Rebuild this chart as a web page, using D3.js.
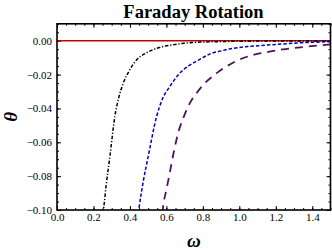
<!DOCTYPE html>
<html>
<head>
<meta charset="utf-8">
<script src="https://cdn.jsdelivr.net/npm/d3@7"></script>
<style>
body { margin: 0; background: #fff; }
text { font-family: "Liberation Serif", "DejaVu Serif", serif; }
</style>
</head>
<body>
<div id="chart"></div>
<script>
// points: [omega, theta]
var blackSeries = [[0.252,-0.102],[0.257,-0.098],[0.270,-0.085],[0.290,-0.0685],[0.317,-0.0449],[0.340,-0.033],[0.363,-0.0252],[0.400,-0.017],[0.436,-0.0114],[0.490,-0.0072],[0.546,-0.0045],[0.640,-0.0023],[0.728,-0.0012],[0.900,-0.0005],[1.100,-0.0002],[1.500,-0.0001]];
var blueSeries = [[0.446,-0.102],[0.451,-0.098],[0.475,-0.082],[0.500,-0.0685],[0.546,-0.0449],[0.580,-0.034],[0.618,-0.0272],[0.670,-0.0195],[0.728,-0.0144],[0.783,-0.011],[0.837,-0.0079],[0.900,-0.006],[0.965,-0.0045],[1.100,-0.003],[1.239,-0.0019],[1.380,-0.001],[1.500,-0.0006]];
var purpleSeries = [[0.578,-0.102],[0.582,-0.098],[0.600,-0.088],[0.618,-0.0783],[0.640,-0.066],[0.664,-0.0547],[0.695,-0.045],[0.728,-0.037],[0.765,-0.031],[0.801,-0.0262],[0.874,-0.0193],[0.965,-0.013],[1.074,-0.0084],[1.160,-0.0066],[1.239,-0.0051],[1.360,-0.0036],[1.500,-0.0022]];
var redSeries = [[0,0],[1.5,0]];
var xTicks = [0, 0.2, 0.4, 0.6, 0.8, 1.0, 1.2, 1.4];
var yTicks = [0, -0.02, -0.04, -0.06, -0.08, -0.10];

var width = 332, height = 252;
var svg = d3.select('#chart').append('svg').attr('width', width).attr('height', height);

var x = d3.scaleLinear().domain([0, 1.5]).range([57, 330.5]);
var y = d3.scaleLinear().domain([-0.1, 0.01]).range([210, 23.8]);

svg.append('clipPath').attr('id', 'clip')
	.append('rect')
	.attr('x', x(0)).attr('y', y(0.01))
	.attr('width', x(1.5) - x(0)).attr('height', y(-0.1) - y(0.01));

var xMinor = d3.range(0, 1.5001, 0.05);
var yMinor = d3.range(-0.1, 0.01001, 0.005);

function tickAxis(axisFn, scale, ticks, minor, transform, size, labels) {
	var gMinor = svg.append('g').attr('transform', transform)
		.call(axisFn(scale).tickValues(minor).tickSize(size / 2).tickFormat(''));
	gMinor.select('.domain').remove();
	var g = svg.append('g').attr('transform', transform)
		.call(axisFn(scale).tickValues(ticks).tickSize(size).tickPadding(labels ? 6 : 0)
			.tickFormat(labels ? labels : ''));
	g.select('.domain').remove();
	g.selectAll('line').attr('stroke', '#000').attr('stroke-width', 1);
	gMinor.selectAll('line').attr('stroke', '#000').attr('stroke-width', 1);
	g.selectAll('text').attr('font-size', 11).attr('fill', '#000')
		.style('font-family', '"Liberation Serif", serif');
	return g;
}

var fmtY = function(d) { return d === 0 ? '0.00' : '\u2212' + d3.format('.2f')(-d); };
var fmtX = d3.format('.1f');

// bottom and top
tickAxis(d3.axisBottom, x, xTicks, xMinor, 'translate(0,' + y(-0.1) + ')', -4, fmtX)
	.selectAll('text').attr('dy', '0.45em');
tickAxis(d3.axisTop, x, xTicks, xMinor, 'translate(0,' + y(0.01) + ')', -4, null);
// left and right
tickAxis(d3.axisLeft, y, yTicks, yMinor, 'translate(' + x(0) + ',0)', -4, fmtY)
	.selectAll('text').attr('dx', '0.1em');
tickAxis(d3.axisRight, y, yTicks, yMinor, 'translate(' + x(1.5) + ',0)', -4, null);

var line = d3.line().x(function(d) { return x(d[0]); }).y(function(d) { return y(d[1]); })
	.curve(d3.curveMonotoneX);

var plot = svg.append('g').attr('clip-path', 'url(#clip)');

plot.append('path').datum(redSeries).attr('d', line)
	.attr('fill', 'none').attr('stroke', '#c00000').attr('stroke-width', 1.6);
plot.append('path').datum(blackSeries).attr('d', line)
	.attr('fill', 'none').attr('stroke', '#000').attr('stroke-width', 1.5)
	.attr('stroke-dasharray', '3.5,1.8,1.2,1.8');
plot.append('path').datum(blueSeries).attr('d', line)
	.attr('fill', 'none').attr('stroke', '#0000b4').attr('stroke-width', 1.5)
	.attr('stroke-dasharray', '3.5,2');
plot.append('path').datum(purpleSeries).attr('d', line)
	.attr('fill', 'none').attr('stroke', '#50105e').attr('stroke-width', 1.8)
	.attr('stroke-dasharray', '8,6');

// frame
svg.append('rect')
	.attr('x', x(0)).attr('y', y(0.01))
	.attr('width', x(1.5) - x(0)).attr('height', y(-0.1) - y(0.01))
	.attr('fill', 'none').attr('stroke', '#000').attr('stroke-width', 1.6);

svg.append('text')
	.attr('x', 193.5).attr('y', 17.5)
	.attr('text-anchor', 'middle').attr('font-size', 18.5).attr('font-weight', 'bold')
	.text('Faraday Rotation');

svg.append('text')
	.attr('x', (x(0) + x(1.5)) / 2).attr('y', 247)
	.attr('text-anchor', 'middle').attr('font-size', 19).attr('font-weight', 'bold')
	.attr('font-style', 'italic')
	.text('ω');

svg.append('text')
	.attr('transform', 'translate(17,' + ((y(0.01) + y(-0.1)) / 2) + ') rotate(-90)')
	.attr('text-anchor', 'middle').attr('font-size', 19).attr('font-weight', 'bold')
	.attr('font-style', 'italic')
	.text('θ');
</script>
</body>
</html>
